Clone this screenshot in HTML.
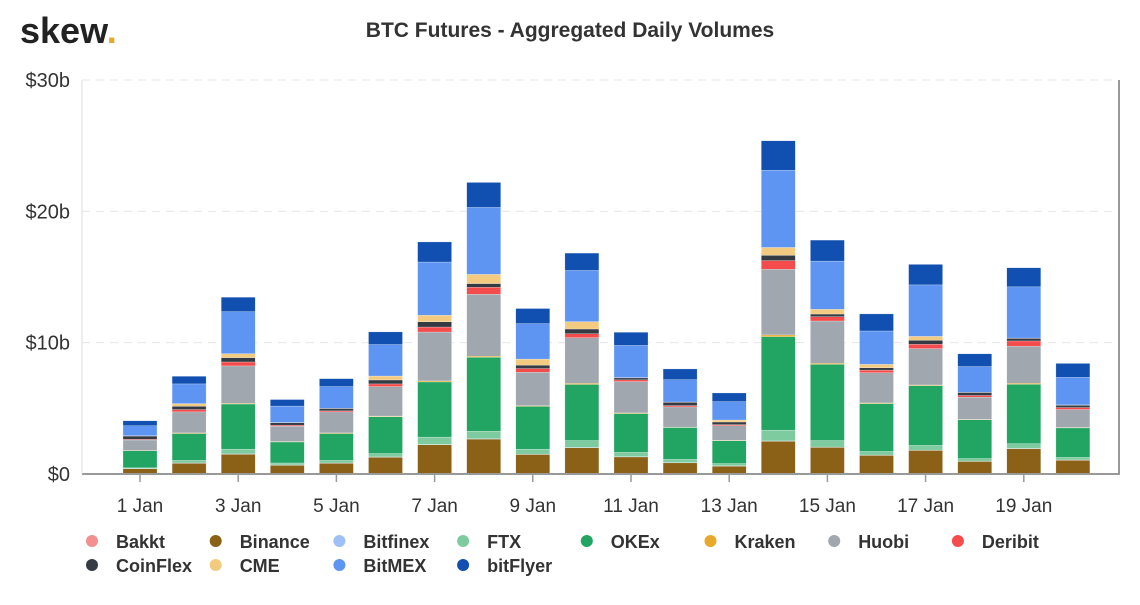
<!DOCTYPE html>
<html><head><meta charset="utf-8"><style>
body{margin:0;background:#fff;font-family:"Liberation Sans",sans-serif}
svg text{font-family:"Liberation Sans",sans-serif}
</style></head><body>
<svg id="c" width="1140" height="600">
<text x="20" y="43" font-size="36" font-weight="bold" fill="#222">skew<tspan fill="#e8a92a">.</tspan></text>
<text x="570" y="37" text-anchor="middle" font-size="21" font-weight="bold" fill="#333">BTC Futures - Aggregated Daily Volumes</text>
<g id="grid"></g><g id="bars"></g><g id="axes"></g><g id="legend"></g>
</svg>
<script>
const days=["1 Jan","2 Jan","3 Jan","4 Jan","5 Jan","6 Jan","7 Jan","8 Jan","9 Jan","10 Jan","11 Jan","12 Jan","13 Jan","14 Jan","15 Jan","16 Jan","17 Jan","18 Jan","19 Jan","20 Jan"];
const seriesNames=["Bakkt","Binance","Bitfinex","FTX","OKEx","Kraken","Huobi","Deribit","CoinFlex","CME","BitMEX","bitFlyer"];
const colors=["#f28f8f","#8b6118","#9fc0f5","#7fcba0","#22a562","#e8a92a","#a0a7ae","#f44c4c","#353b43","#f3cb80","#5f95f2","#1150b0"];
const bakkt=[0,0,0,0,0,0,0,0,0,0,0,0,0,0,0,0,0,0,0,0];
const binance=[0.4,0.82,1.51,0.67,0.82,1.28,2.23,2.66,1.49,2.0,1.3,0.85,0.6,2.5,2.03,1.42,1.8,0.96,1.93,1.05];
const bitfinex=[0.02,0.02,0.02,0.02,0.02,0.02,0.02,0.02,0.02,0.02,0.02,0.02,0.02,0.02,0.02,0.02,0.02,0.02,0.02,0.02];
const ftx=[0.05,0.2,0.36,0.15,0.2,0.26,0.56,0.58,0.38,0.53,0.33,0.25,0.18,0.82,0.5,0.28,0.36,0.2,0.36,0.2];
const okex=[1.3,2.04,3.44,1.6,2.04,2.8,4.2,5.63,3.26,4.27,2.95,2.42,1.73,7.12,5.8,3.64,4.55,2.95,4.52,2.24];
const kraken=[0.02,0.05,0.05,0.03,0.05,0.05,0.08,0.08,0.05,0.08,0.05,0.03,0.03,0.13,0.08,0.05,0.05,0.03,0.08,0.03];
const huobi=[0.8,1.6,2.85,1.17,1.6,2.25,3.72,4.72,2.55,3.48,2.39,1.54,1.12,5.0,3.22,2.3,2.77,1.69,2.82,1.37];
const deribit=[0.05,0.18,0.3,0.08,0.08,0.2,0.38,0.53,0.28,0.3,0.13,0.1,0.08,0.66,0.33,0.2,0.33,0.13,0.4,0.15];
const coinflex=[0.25,0.25,0.33,0.18,0.18,0.3,0.4,0.28,0.26,0.36,0.15,0.25,0.2,0.4,0.2,0.18,0.3,0.23,0.2,0.18];
const cme=[0.02,0.2,0.3,0.02,0.02,0.3,0.5,0.7,0.46,0.56,0.02,0.02,0.15,0.6,0.36,0.26,0.3,0.02,0.02,0.02];
const bitmex=[0.76,1.5,3.2,1.25,1.65,2.4,4.05,5.1,2.7,3.9,2.45,1.7,1.4,5.88,3.67,2.54,3.92,1.95,3.9,2.1];
const bitflyer=[0.38,0.58,1.1,0.5,0.6,0.96,1.53,1.9,1.15,1.32,1.0,0.82,0.66,2.24,1.6,1.3,1.56,0.97,1.45,1.06];
const yTicks=[0,10,20,30];
const yTickLabels=["$0","$10b","$20b","$30b"];
const series=[bakkt,binance,bitfinex,ftx,okex,kraken,huobi,deribit,coinflex,cme,bitmex,bitflyer];
const NS="http://www.w3.org/2000/svg";
const x0=82,x1=1118,yb=474,yt=80;
const y=v=>yb-(v/30)*(yb-yt);
const xc=i=>140+i*49.1;
function mk(tag,at,parent){const e=document.createElementNS(NS,tag);for(const k in at)e.setAttribute(k,at[k]);parent.appendChild(e);return e;}
const G=document.getElementById('grid'),B=document.getElementById('bars'),A=document.getElementById('axes'),L=document.getElementById('legend');
yTicks.forEach((t,i)=>{
 if(t>0){const g=mk('line',{x1:x0,x2:x1,y1:y(t),y2:y(t),stroke:'#e6e6e6','stroke-dasharray':'8,6','stroke-width':1},G);
 
 }
 const tx=mk('text',{x:70,y:y(t)+7,'text-anchor':'end','font-size':20,fill:'#333'},A);tx.textContent=yTickLabels[i];
 
 
});
days.forEach((d,i)=>{
 let acc=0;
 series.forEach((s,k)=>{
  const v=s[i]; if(v<=0) return;
  const r=mk('rect',{x:xc(i)-17,y:y(acc+v),width:34,height:y(acc)-y(acc+v),fill:colors[k],stroke:'#fff','stroke-width':0.4,'stroke-opacity':0.6},B);
  
  
  acc+=v;
 });
 if(i%2==0){
  mk('line',{x1:xc(i),x2:xc(i),y1:yb,y2:yb+8,stroke:'#999','stroke-width':1.5},A);
  const t=mk('text',{x:xc(i),y:512,'text-anchor':'middle','font-size':19,fill:'#333'},A);t.textContent=d;
  
  
 }
});
const ax=mk('line',{x1:x0,x2:x1+2,y1:yb,y2:yb,stroke:'#999','stroke-width':2},A);


mk('line',{x1:x0,x2:x0,y1:yt,y2:yb,stroke:'#ddd','stroke-width':1},A);
mk('line',{x1:x1+1,x2:x1+1,y1:yt,y2:yb+1,stroke:'#999','stroke-width':2},A);
seriesNames.forEach((n,k)=>{
 const col=k<8?k:k-8,row=k<8?0:1;
 const lx=92+col*123.7,ly=541+row*24;
 const g=mk('g',{},L);
 
 
 mk('circle',{cx:lx,cy:ly,r:6,fill:colors[k]},g);
 const t=mk('text',{x:lx+24,y:ly+7,'font-size':18,'font-weight':'bold',fill:'#333'},g);t.textContent=n;
});
</script>
</body></html>
